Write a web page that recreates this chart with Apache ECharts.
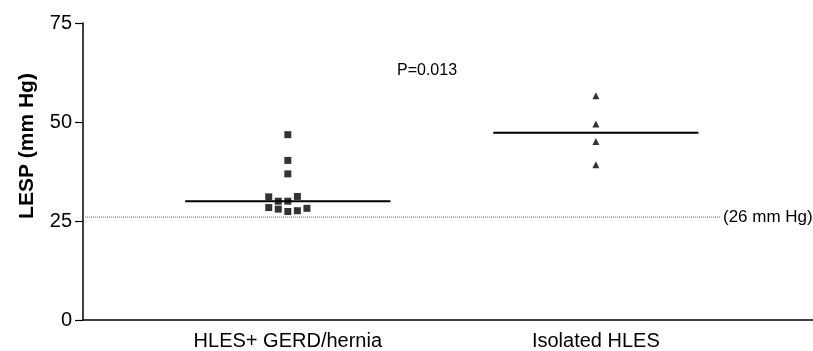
<!DOCTYPE html>
<html>
<head>
<meta charset="utf-8">
<script src="https://cdn.jsdelivr.net/npm/echarts@6/dist/echarts.min.js"></script>
<style>
  html, body { margin: 0; padding: 0; background: #fff; }
  #chart { width: 813px; height: 351px; }
</style>
</head>
<body>
<div id="chart"></div>
<script>
// Group names and their positions on the horizontal axis
const groups = ['HLES+ GERD/hernia', 'Isolated HLES'];
const groupPos = [1, 2];

// LESP values (mm Hg); slots spread overlapping points sideways
const gerdValues = [46.8, 40.3, 36.9, 31.1, 31.2, 30.0, 30.0, 28.4, 28.0, 27.4, 27.6, 28.2];
const gerdSlots  = [0, 0, 0, -2, 1, -1, 0, -2, -1, 0, 1, 2];
const isolatedValues = [56.6, 49.5, 45.1, 39.2];
const isolatedSlots  = [0, 0, 0, 0];

// Group medians (mm Hg)
const medians = [30.0, 47.3];

// Y axis ticks and the normal-limit threshold
const yTicks = [0, 25, 50, 75];
const threshold = 26;
const thresholdLabel = '(26 mm Hg)';
const pValue = 'P=0.013';

const FONT = '"Liberation Sans", Arial, Helvetica, sans-serif';
const slotStep = 0.031;
const medianHalf = 0.333;
const xMin = 0.335, xMax = 2.705, thresholdEnd = 2.403;

const chart = echarts.init(document.getElementById('chart'), null, { renderer: 'canvas' });

const toPoints = (pos, values, slots) =>
  values.map((v, i) => [pos + slots[i] * slotStep, v]);

chart.setOption({
  animation: false,
  backgroundColor: '#fff',
  grid: { left: 83, right: 0, top: 23, bottom: 31, containLabel: false },
  xAxis: {
    type: 'value',
    min: xMin,
    max: xMax,
    axisLine: { show: true, onZero: false, lineStyle: { color: '#000', width: 1.5 } },
    axisTick: { show: false },
    splitLine: { show: false },
    axisLabel: {
      customValues: groupPos,
      formatter: v => groups[groupPos.indexOf(v)] || '',
      color: '#000',
      fontFamily: FONT,
      fontSize: 20,
      margin: 11
    }
  },
  yAxis: {
    type: 'value',
    min: yTicks[0],
    max: yTicks[yTicks.length - 1],
    interval: 25,
    axisLine: { show: true, lineStyle: { color: '#000', width: 1.5 } },
    axisTick: { show: true, length: 8, lineStyle: { color: '#000', width: 1.2 } },
    splitLine: { show: false },
    axisLabel: { color: '#000', fontFamily: FONT, fontSize: 20, margin: 11 }
  },
  graphic: [
    {
      type: 'text',
      x: 27, y: 146,
      rotation: Math.PI / 2,
      style: {
        text: 'LESP (mm Hg)',
        font: 'bold 21px ' + FONT,
        fill: '#000',
        textAlign: 'center',
        textVerticalAlign: 'middle'
      }
    },
    {
      type: 'text',
      x: 427, y: 71,
      style: {
        text: pValue,
        font: '16px ' + FONT,
        fill: '#000',
        textAlign: 'center',
        textVerticalAlign: 'middle'
      }
    }
  ],
  series: [
    {
      type: 'line',
      data: [[xMin, threshold], [thresholdEnd, threshold]],
      symbol: 'none',
      silent: true,
      lineStyle: { color: '#666', width: 1, type: [1, 1] },
      endLabel: {
        show: true,
        formatter: thresholdLabel,
        color: '#000',
        fontFamily: FONT,
        fontSize: 17,
        distance: 3
      },
      z: 1
    },
    ...groupPos.map((pos, i) => ({
      type: 'line',
      data: [[pos - medianHalf, medians[i]], [pos + medianHalf, medians[i]]],
      symbol: 'none',
      silent: true,
      lineStyle: { color: '#000', width: 2 },
      z: 2
    })),
    {
      type: 'scatter',
      data: toPoints(groupPos[0], gerdValues, gerdSlots),
      symbol: 'rect',
      symbolSize: 7,
      itemStyle: { color: '#000' },
      z: 3
    },
    {
      type: 'scatter',
      data: toPoints(groupPos[1], isolatedValues, isolatedSlots),
      symbol: 'triangle',
      symbolSize: [7, 7],
      itemStyle: { color: '#000' },
      z: 3
    }
  ]
});
</script>
</body>
</html>
